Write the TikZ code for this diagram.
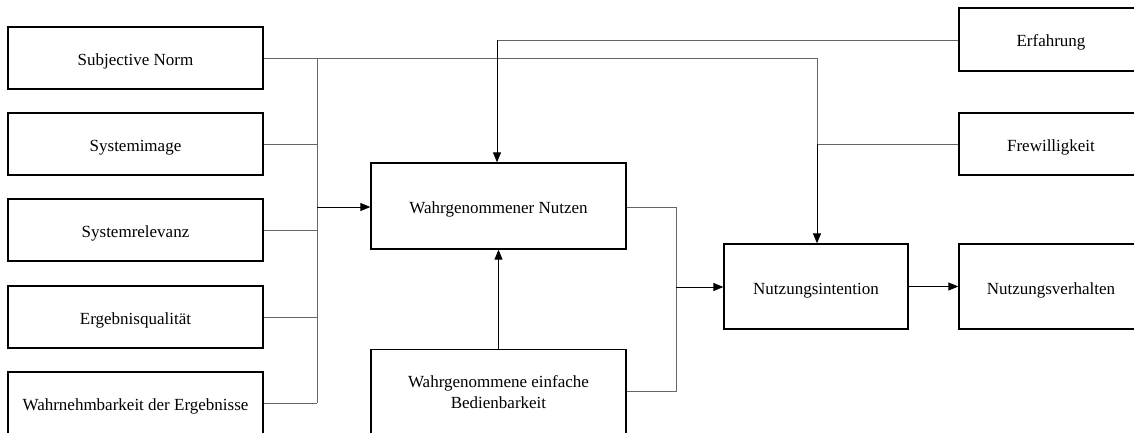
\documentclass[tikz,border=0pt]{standalone}
\usepackage{fontspec}
\setmainfont{Liberation Serif}
\usetikzlibrary{arrows.meta}
\begin{document}
\begin{tikzpicture}[x=1pt,y=-1pt,
  box/.style={draw=black,line width=1.3pt,fill=white,inner sep=0pt,align=center,
    font=\fontsize{17}{21}\selectfont},
  one/.style={text height=15pt,text depth=0pt},
  conn/.style={draw=black!60,line width=0.9pt},
  arr/.style={draw=black,line width=1pt,-{Triangle[length=10pt,width=8pt]}}]
\clip (0,0) rectangle (1134,433);
\fill[white] (0,0) rectangle (1134,433);
% left column
\node[box,one,minimum width=255pt,minimum height=62pt] (sn) at (135.5,58) {Subjective Norm};
\node[box,one,minimum width=255pt,minimum height=62pt] (si) at (135.5,144) {Systemimage};
\node[box,one,minimum width=255pt,minimum height=62pt] (sr) at (135.5,230) {Systemrelevanz};
\node[box,one,minimum width=255pt,minimum height=62pt] (eq) at (135.5,317) {Ergebnisqualität};
\node[box,one,minimum width=255pt,minimum height=62pt] (wd) at (135.5,403) {Wahrnehmbarkeit der Ergebnisse};
% middle
\node[box,one,minimum width=255pt,minimum height=86pt] (pn) at (498.5,206) {Wahrgenommener Nutzen};
\node[box,minimum width=255pt,minimum height=86pt] (eb) at (498.5,392.5) {Wahrgenommene einfache\\Bedienbarkeit};
% right
\node[box,one,minimum width=184pt,minimum height=85pt] (ni) at (816,286.5) {Nutzungsintention};
\node[box,one,minimum width=184pt,minimum height=85pt] (nv) at (1051,286.5) {Nutzungsverhalten};
\node[box,one,minimum width=184pt,minimum height=63pt] (er) at (1051,39.5) {Erfahrung};
\node[box,one,minimum width=184pt,minimum height=62pt] (fw) at (1051,144) {Frewilligkeit};
% junction coordinates
\coordinate (busT) at (317,58);
\coordinate (busB) at (317,403);
\coordinate (busA) at (317,207);
\coordinate (snR) at (817,58);
\coordinate (fwJ) at (817,144);
\coordinate (erJ) at (497,40);
\coordinate (rT) at (676,207);
\coordinate (rB) at (676,391);
\coordinate (rA) at (676,287);
% connectors
\draw[conn] (sn.east) -- (snR) -- (fwJ);
\draw[conn] (busT) -- (busB);
\draw[conn] (si.east) -- (si.east -| busT);
\draw[conn] (sr.east) -- (sr.east -| busT);
\draw[conn] (eq.east) -- (eq.east -| busT);
\draw[conn] (wd.east) -- (busB);
\draw[arr] (busA) -- (pn.west |- busA);
\draw[conn] (er.west |- erJ) -- (erJ);
\draw[arr] (erJ) -- (erJ |- pn.north);
\draw[conn] (fw.west) -- (fwJ);
\draw[arr] (fwJ) -- (fwJ |- ni.north);
\draw[arr] (eb.north) -- (pn.south);
\draw[conn] (pn.east |- rT) -- (rT) -- (rB) -- (eb.east |- rB);
\draw[arr] (rA) -- (ni.west |- rA);
\draw[arr] (ni.east) -- (nv.west);
\end{tikzpicture}
\end{document}
